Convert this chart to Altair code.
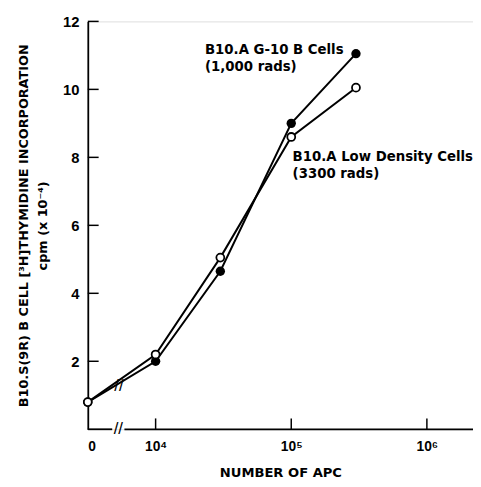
import altair as alt
import pandas as pd

# Data
apc = [0, 1e4, 3e4, 1e5, 3e5]
g10_cells = [0.8, 2.0, 4.65, 9.0, 11.05]
low_density = [0.8, 2.2, 5.05, 8.6, 10.05]

x_tick_vals = [4, 5, 6]
y_tick_vals = [2, 4, 6, 8, 10, 12]

rows = []
for a, v in zip(apc, g10_cells):
    rows.append({"apc": a, "value": v, "series": "g10"})
for a, v in zip(apc, low_density):
    rows.append({"apc": a, "value": v, "series": "low"})
df = pd.DataFrame(rows)

FONT = "Liberation Sans"
TFONT = "DejaVu Sans"
XDOM = [3.5, 6.34]
YDOM = [0, 12]

xs = alt.Scale(domain=XDOM, nice=False, zero=False)
ys = alt.Scale(domain=YDOM, nice=False)

base = alt.Chart(df).transform_calculate(
    pos="datum.apc > 0 ? log(datum.apc)/LN10 : 3.5"
)

lines = base.mark_line(color="black", strokeWidth=2).encode(
    x=alt.X("pos:Q", scale=xs,
            axis=alt.Axis(values=[3.5, 4, 5, 6], ticks=False, domain=False, grid=False,
                          labelExpr="datum.value == 3.5 ? '0' : datum.value == 4 ? '10⁴' : datum.value == 5 ? '10⁵' : '10⁶'",
                          labelFontSize=14, labelFontWeight="bold", labelColor="black",
                          labelPadding=11, labelFont=FONT,
                          title="NUMBER OF APC", titleFont=TFONT, titleFontSize=13.3,
                          titleFontWeight="bold", titleColor="black", titlePadding=12)),
    y=alt.Y("value:Q", scale=ys,
            axis=alt.Axis(values=y_tick_vals, ticks=False, grid=False,
                          domainColor="black", domainWidth=1.8,
                          labelFontSize=15, labelFontWeight="bold", labelColor="black",
                          labelPadding=9, labelFont=FONT,
                          title=["B10.S(9R) B CELL  [³H]THYMIDINE INCORPORATION", "cpm (x 10⁻⁴)"],
                          titleFont=TFONT, titleFontSize=13, titleFontWeight="bold",
                          titleColor="black", titlePadding=13, titleLineHeight=20)),
    detail="series:N",
)

filled = base.transform_filter("datum.series == 'g10'").mark_point(
    shape="circle", filled=True, color="black", size=90, opacity=1
).encode(x=alt.X("pos:Q", scale=xs), y=alt.Y("value:Q", scale=ys))

opened = base.transform_filter("datum.series == 'low'").mark_point(
    shape="circle", filled=True, fill="white", stroke="black", strokeWidth=1.8, size=65, opacity=1
).encode(x=alt.X("pos:Q", scale=xs), y=alt.Y("value:Q", scale=ys))

# inward ticks
xt = alt.Chart(pd.DataFrame({"v": x_tick_vals})).mark_rule(color="black", strokeWidth=1.5).encode(
    x=alt.X("v:Q", scale=xs), y=alt.value(414), y2=alt.value(403))
yt = alt.Chart(pd.DataFrame({"v": y_tick_vals})).mark_rule(color="black", strokeWidth=1.5).encode(
    y=alt.Y("v:Q", scale=ys), x=alt.value(0), x2=alt.value(11))

# broken x-axis line
xaxis_seg = alt.Chart(pd.DataFrame({"a": [3.5, 3.77], "b": [3.68, 6.34]})).mark_rule(
    color="black", strokeWidth=1.8).encode(
    x=alt.X("a:Q", scale=xs), x2="b:Q", y=alt.value(414))

breaks = alt.Chart(pd.DataFrame({"x": [3.725, 3.73], "y": [0, 1.28]})).mark_text(
    text="//", font=FONT, fontSize=17, color="black"
).encode(x=alt.X("x:Q", scale=xs), y=alt.Y("y:Q", scale=ys))

labels = alt.Chart(pd.DataFrame({
    "x": [4.364, 4.364, 5.01, 5.01],
    "y": [11.03, 10.55, 7.90, 7.40],
    "t": ["B10.A G-10 B Cells", "(1,000 rads)", "B10.A Low Density Cells", "(3300 rads)"],
})).mark_text(align="left", baseline="alphabetic", font=TFONT, fontSize=13.5, fontWeight="bold",
              color="black").encode(
    x=alt.X("x:Q", scale=xs), y=alt.Y("y:Q", scale=ys), text="t:N")

chart = alt.layer(lines, filled, opened, xt, yt, xaxis_seg, breaks, labels).properties(
    width=391, height=414,
    autosize=alt.AutoSizeParams(type="none"),
    padding={"left": 81, "top": 10, "right": 0, "bottom": 55},
).configure_view(stroke=None).configure(background="white")

chart.save("out.html", embed_options={"renderer": "svg", "actions": False})
